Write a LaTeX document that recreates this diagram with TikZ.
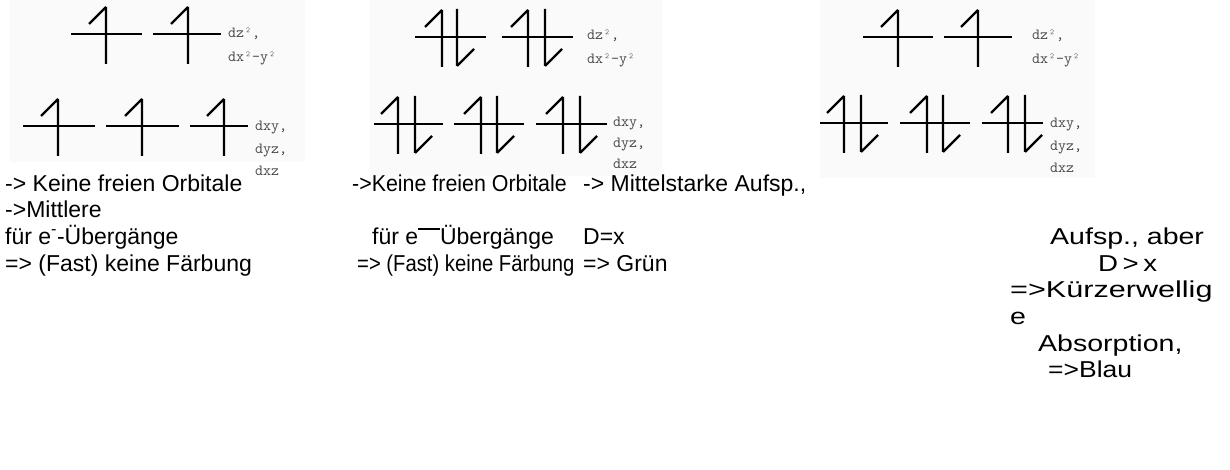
\documentclass[tikz,border=0pt]{standalone}
\usepackage{fontspec}
\setmainfont{Liberation Sans}
\begin{document}
\begin{tikzpicture}[x=1pt,y=-1pt,
  panel/.style={fill=black!2,draw=none},
  lvl/.style={line width=1.4pt},
  spin/.style={line width=2.4pt},
  lbl/.style={font=\ttfamily\fontsize{15.5}{17}\selectfont,text=black!72,anchor=base west,inner sep=0pt},
  txt/.style={font=\fontsize{23}{26}\selectfont,anchor=base west,inner sep=0pt},
  upspin/.pic={\draw[spin] (0,-27)--(0,30) (0,-27)--(-17,-10);},
  dnspin/.pic={\draw[spin] (0,-28)--(0,29) (0,29)--(17,12);}
]
\useasboundingbox (0,0) rectangle (1230,470);
% panel backgrounds
\fill[panel] (10,0) rectangle (305,162);
\fill[panel] (370,0) rectangle (662,176);
\fill[panel] (820,0) rectangle (1095,178);

% ---------- panel 1 ----------
\draw[lvl] (71,34)--(142,34) (153,34)--(221,34);
\pic at (106,34) {upspin}; \pic at (188,34) {upspin};
\node[lbl] (p1a) at (228,38) {dz²,};
\node[lbl] (p1b) at (228,62) {dx²-y²};
\draw[lvl] (23,126)--(95,126) (106,126)--(179,126) (190,126)--(248,126);
\pic at (58,126) {upspin}; \pic at (142,126) {upspin}; \pic at (224,126) {upspin};
\node[lbl] (p1c) at (255,131) {dxy,};
\node[lbl] (p1d) at (255,154) {dyz,};
\node[lbl] (p1e) at (255,176) {dxz};

% ---------- panel 2 ----------
\draw[lvl] (415,37)--(486,37) (502,37)--(573,37);
\pic at (442,37) {upspin}; \pic at (457,37) {dnspin};
\pic at (528,37) {upspin}; \pic at (545,37) {dnspin};
\node[lbl] (p2a) at (587,40) {dz²,};
\node[lbl] (p2b) at (587,64) {dx²-y²};
\draw[lvl] (374,124)--(443,124) (454,124)--(524,124) (536,124)--(607,124);
\pic at (398,124) {upspin}; \pic at (415,124) {dnspin};
\pic at (481,124) {upspin}; \pic at (497,124) {dnspin};
\pic at (563,124) {upspin}; \pic at (580,124) {dnspin};
\node[lbl] (p2c) at (613,127) {dxy,};
\node[lbl] (p2d) at (613,148) {dyz,};
\node[lbl] (p2e) at (613,169) {dxz};

% ---------- panel 3 ----------
\draw[lvl] (863,37)--(933,37) (944,37)--(1012,37);
\pic at (898,37) {upspin}; \pic at (978,37) {upspin};
\node[lbl] (p3a) at (1032,40) {dz²,};
\node[lbl] (p3b) at (1032,64) {dx²-y²};
\draw[lvl] (820,123)--(888,123) (900,123)--(970,123) (982,123)--(1043,123);
\pic at (844,123) {upspin}; \pic at (861,123) {dnspin};
\pic at (927,123) {upspin}; \pic at (943,123) {dnspin};
\pic at (1008,123) {upspin}; \pic at (1025,123) {dnspin};
\node[lbl] (p3c) at (1050,128) {dxy,};
\node[lbl] (p3d) at (1050,151) {dyz,};
\node[lbl] (p3e) at (1050,173) {dxz};

% ---------- text ----------
\node[txt] (a1) at (5,192) {-> Keine freien Orbitale};
\node[txt] (a2) at (5,218) {->Mittlere};
\node[txt] (a3) at (5,244) {für e\textsuperscript{-}-Übergänge};
\node[txt] (a4) at (5,271) {=> (Fast) keine Färbung};

\node[txt] (b1) at (352,192) {\scalebox{0.93}[1]{->Keine freien Orbitale}};
\node[txt] (b3) at (372,244) {für e\raisebox{0.62em}{\rule{0.95em}{1.3pt}}Übergänge};
\node[txt] (b4) at (357,271) {\scalebox{0.88}[1]{=> (Fast) keine Färbung}};

\node[txt] (c1) at (583,192) {-> Mittelstarke Aufsp.,};
\node[txt] (c3) at (583,244) {D=x};
\node[txt] (c4) at (583,271) {=> Grün};

\node[txt] (d3) at (1050,244) {\scalebox{1.24}[1]{Aufsp., aber}};
\node[txt] (d4) at (1098,271) {\scalebox{1.2}[1]{D\,>\,x}};
\node[txt] (d5) at (1010,297) {\scalebox{1.33}[1]{=>Kürzerwellig}};
\node[txt] (d6) at (1010,324) {\scalebox{1.24}[1]{e}};
\node[txt] (d7) at (1038,351) {\scalebox{1.24}[1]{Absorption,}};
\node[txt] (d8) at (1048,377) {\scalebox{1.15}[1]{=>Blau}};
\end{tikzpicture}
\end{document}
